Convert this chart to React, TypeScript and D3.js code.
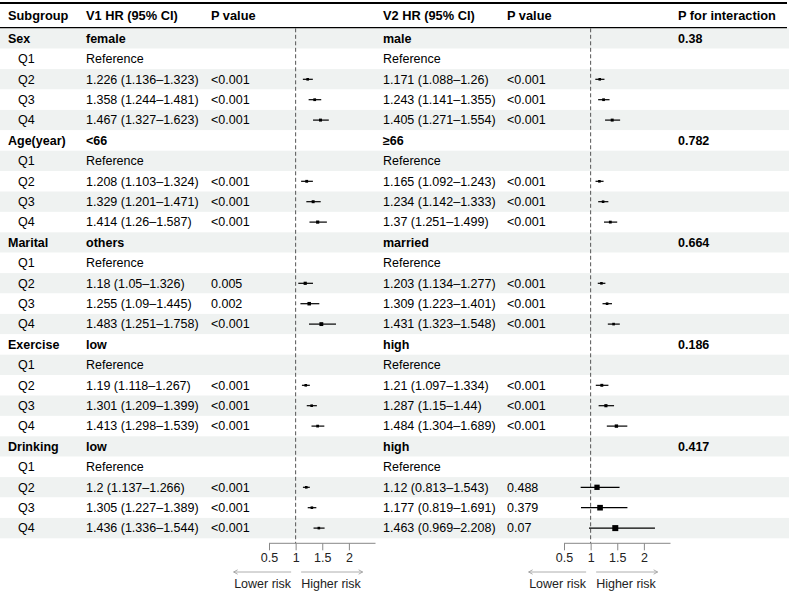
import React, { useEffect, useRef } from "react";
import * as d3 from "d3";

// subgroup variables and the two levels compared in each
const groups = ["Sex", "Age(year)", "Marital", "Exercise", "Drinking"];
const v1Levels = ["female", "<66", "others", "low", "low"];
const v2Levels = ["male", "≥66", "married", "high", "high"];
const pInteraction = ["0.38", "0.782", "0.664", "0.186", "0.417"];
const quartiles = ["Q1", "Q2", "Q3", "Q4"];

// [HR, lower, upper] for Q2..Q4 (Q1 is the reference)
const v1Hr = [
  [[1.226, 1.136, 1.323], [1.358, 1.244, 1.481], [1.467, 1.327, 1.623]],
  [[1.208, 1.103, 1.324], [1.329, 1.201, 1.471], [1.414, 1.26, 1.587]],
  [[1.18, 1.05, 1.326], [1.255, 1.09, 1.445], [1.483, 1.251, 1.758]],
  [[1.19, 1.118, 1.267], [1.301, 1.209, 1.399], [1.413, 1.298, 1.539]],
  [[1.2, 1.137, 1.266], [1.305, 1.227, 1.389], [1.436, 1.336, 1.544]],
];
const v1P = [
  ["<0.001", "<0.001", "<0.001"],
  ["<0.001", "<0.001", "<0.001"],
  ["0.005", "0.002", "<0.001"],
  ["<0.001", "<0.001", "<0.001"],
  ["<0.001", "<0.001", "<0.001"],
];
const v2Hr = [
  [[1.171, 1.088, 1.26], [1.243, 1.141, 1.355], [1.405, 1.271, 1.554]],
  [[1.165, 1.092, 1.243], [1.234, 1.142, 1.333], [1.37, 1.251, 1.499]],
  [[1.203, 1.134, 1.277], [1.309, 1.223, 1.401], [1.431, 1.323, 1.548]],
  [[1.21, 1.097, 1.334], [1.287, 1.15, 1.44], [1.484, 1.304, 1.689]],
  [[1.12, 0.813, 1.543], [1.177, 0.819, 1.691], [1.463, 0.969, 2.208]],
];
const v2P = [
  ["<0.001", "<0.001", "<0.001"],
  ["<0.001", "<0.001", "<0.001"],
  ["<0.001", "<0.001", "<0.001"],
  ["<0.001", "<0.001", "<0.001"],
  ["0.488", "0.379", "0.07"],
];
const axisTicks = [0.5, 1, 1.5, 2];
const xLimits = [0.5, 2.5];

const W = 789;
const H = 593;
const FONT = "'Liberation Sans', Arial, Helvetica, sans-serif";
const FS = 12.5;

type Row = {
  label: string;
  bold: boolean;
  v1Text: string;
  v1P: string;
  v1: number[] | null;
  v2Text: string;
  v2P: string;
  v2: number[] | null;
  pint: string;
};

const fmt = (d: number[]) => `${d[0]} (${d[1]}–${d[2]})`;

function buildRows(): Row[] {
  const rows: Row[] = [];
  groups.forEach((g, gi) => {
    rows.push({
      label: g, bold: true,
      v1Text: v1Levels[gi], v1P: "", v1: null,
      v2Text: v2Levels[gi], v2P: "", v2: null,
      pint: pInteraction[gi],
    });
    quartiles.forEach((q, qi) => {
      if (qi === 0) {
        rows.push({
          label: q, bold: false,
          v1Text: "Reference", v1P: "", v1: null,
          v2Text: "Reference", v2P: "", v2: null,
          pint: "",
        });
      } else {
        rows.push({
          label: q, bold: false,
          v1Text: fmt(v1Hr[gi][qi - 1]), v1P: v1P[gi][qi - 1], v1: v1Hr[gi][qi - 1],
          v2Text: fmt(v2Hr[gi][qi - 1]), v2P: v2P[gi][qi - 1], v2: v2Hr[gi][qi - 1],
          pint: "",
        });
      }
    });
  });
  return rows;
}

export default function App() {
  const ref = useRef<SVGSVGElement>(null);

  useEffect(() => {
    const svg = d3.select(ref.current);
    svg.selectAll("*").remove();

    const rows = buildRows();
    const rowTop = 28.3;
    const rowH = 20.4;
    const tableBottom = rowTop + rows.length * rowH;
    const axisY = tableBottom + 5;
    const cy = (i: number) => rowTop + i * rowH + rowH / 2;

    const col = { sub: 8, q: 18, v1: 86, p1: 211, v2: 383, p2: 507, pint: 678 };
    const xLeft = d3.scaleLinear().domain(xLimits).range([269, 375.5]);
    const xRight = d3.scaleLinear().domain(xLimits).range([564, 670.5]);

    // log-scale standard error drives the box size
    const seOf = (d: number[]) => (Math.log(d[2]) - Math.log(d[1])) / 3.92;
    const boxSize = d3.scaleSqrt().domain([0, 0.21]).range([0, 6]);
    const side = (d: number[]) => Math.max(2.6, boxSize(seOf(d)));

    // striped row backgrounds
    svg.append("g")
      .selectAll("rect")
      .data(rows)
      .join("rect")
      .attr("x", 0)
      .attr("y", (d, i) => rowTop + i * rowH)
      .attr("width", W)
      .attr("height", rowH)
      .attr("fill", (d, i) => (i % 2 === 0 ? "#eff2f1" : "#ffffff"));

    // header
    const header = svg.append("g")
      .attr("font-family", FONT)
      .attr("font-size", FS + 0.3)
      .attr("font-weight", "bold")
      .attr("fill", "#000");
    const heads: [string, number][] = [
      ["Subgroup", col.sub], ["V1 HR (95% CI)", col.v1], ["P value", col.p1],
      ["V2 HR (95% CI)", col.v2], ["P value", col.p2], ["P for interaction", col.pint],
    ];
    heads.forEach(([t, x]) => {
      header.append("text").attr("x", x).attr("y", 15.7).attr("dy", "0.35em").text(t);
    });

    svg.append("line")
      .attr("x1", 0).attr("x2", W - 2)
      .attr("y1", 3).attr("y2", 3)
      .attr("stroke", "#000").attr("stroke-width", 2);
    svg.append("line")
      .attr("x1", 0).attr("x2", W - 2)
      .attr("y1", rowTop - 0.7).attr("y2", rowTop - 0.7)
      .attr("stroke", "#000").attr("stroke-width", 1.3);

    // table text
    const body = svg.append("g")
      .attr("font-family", FONT)
      .attr("font-size", FS)
      .attr("fill", "#000");
    rows.forEach((r, i) => {
      const y = cy(i);
      const weight = r.bold ? "bold" : "normal";
      const put = (t: string, x: number) => {
        if (!t) return;
        body.append("text")
          .attr("x", x).attr("y", y).attr("dy", "0.35em")
          .attr("font-weight", weight)
          .text(t);
      };
      put(r.label, r.bold ? col.sub : col.q);
      put(r.v1Text, col.v1);
      put(r.v1P, col.p1);
      put(r.v2Text, col.v2);
      put(r.v2P, col.p2);
      put(r.pint, col.pint);
    });

    // forest panels
    const drawForest = (x: d3.ScaleLinear<number, number>, key: "v1" | "v2") => {
      const g = svg.append("g");

      g.append("line")
        .attr("x1", x(1)).attr("x2", x(1))
        .attr("y1", rowTop).attr("y2", axisY)
        .attr("stroke", "#555")
        .attr("stroke-width", 1)
        .attr("stroke-dasharray", "4,2.5");

      const pts = rows.map((r, i) => ({ d: r[key], i })).filter(p => p.d);
      g.selectAll("line.ci")
        .data(pts)
        .join("line")
        .attr("class", "ci")
        .attr("x1", p => x(p.d![1]))
        .attr("x2", p => x(p.d![2]))
        .attr("y1", p => cy(p.i))
        .attr("y2", p => cy(p.i))
        .attr("stroke", "#000")
        .attr("stroke-width", 1.2);
      g.selectAll("rect.box")
        .data(pts)
        .join("rect")
        .attr("class", "box")
        .attr("x", p => x(p.d![0]) - side(p.d!) / 2)
        .attr("y", p => cy(p.i) - side(p.d!) / 2)
        .attr("width", p => side(p.d!))
        .attr("height", p => side(p.d!))
        .attr("fill", "#000");

      const axis = g.append("g")
        .attr("transform", `translate(0,${axisY})`)
        .call(d3.axisBottom(x).tickValues(axisTicks).tickSize(7).tickSizeOuter(0).tickFormat(d => String(d)));
      axis.select(".domain").attr("stroke", "#888").attr("d", `M${x(xLimits[0])},0H${x(xLimits[1])}`);
      axis.selectAll(".tick line").attr("stroke", "#888");
      axis.selectAll(".tick text")
        .attr("font-family", FONT)
        .attr("font-size", FS)
        .attr("fill", "#222")
        .attr("y", 10);

      // direction arrows
      const ay = 572;
      const arrow = (x1: number, x2: number) => {
        const dir = x2 > x1 ? 1 : -1;
        g.append("line")
          .attr("x1", x1).attr("x2", x2).attr("y1", ay).attr("y2", ay)
          .attr("stroke", "#999").attr("stroke-width", 0.8);
        g.append("path")
          .attr("d", `M${x2 - dir * 4},${ay - 2.2}L${x2},${ay}L${x2 - dir * 4},${ay + 2.2}`)
          .attr("fill", "none").attr("stroke", "#999").attr("stroke-width", 0.8);
      };
      const x0 = x(1);
      arrow(x0 - 4.5, x0 - 62);
      arrow(x0 + 5.5, x0 + 67);
      g.append("text")
        .attr("x", x0 - 4.5).attr("y", 584).attr("dy", "0.35em")
        .attr("text-anchor", "end")
        .attr("font-family", FONT).attr("font-size", FS).attr("fill", "#222")
        .text("Lower risk");
      g.append("text")
        .attr("x", x0 + 5.5).attr("y", 584).attr("dy", "0.35em")
        .attr("font-family", FONT).attr("font-size", FS).attr("fill", "#222")
        .text("Higher risk");
    };

    drawForest(xLeft, "v1");
    drawForest(xRight, "v2");
  }, []);

  return (
    <svg
      ref={ref}
      width={W}
      height={H}
      style={{ position: "absolute", left: 0, top: 0, background: "#fff" }}
    />
  );
}
